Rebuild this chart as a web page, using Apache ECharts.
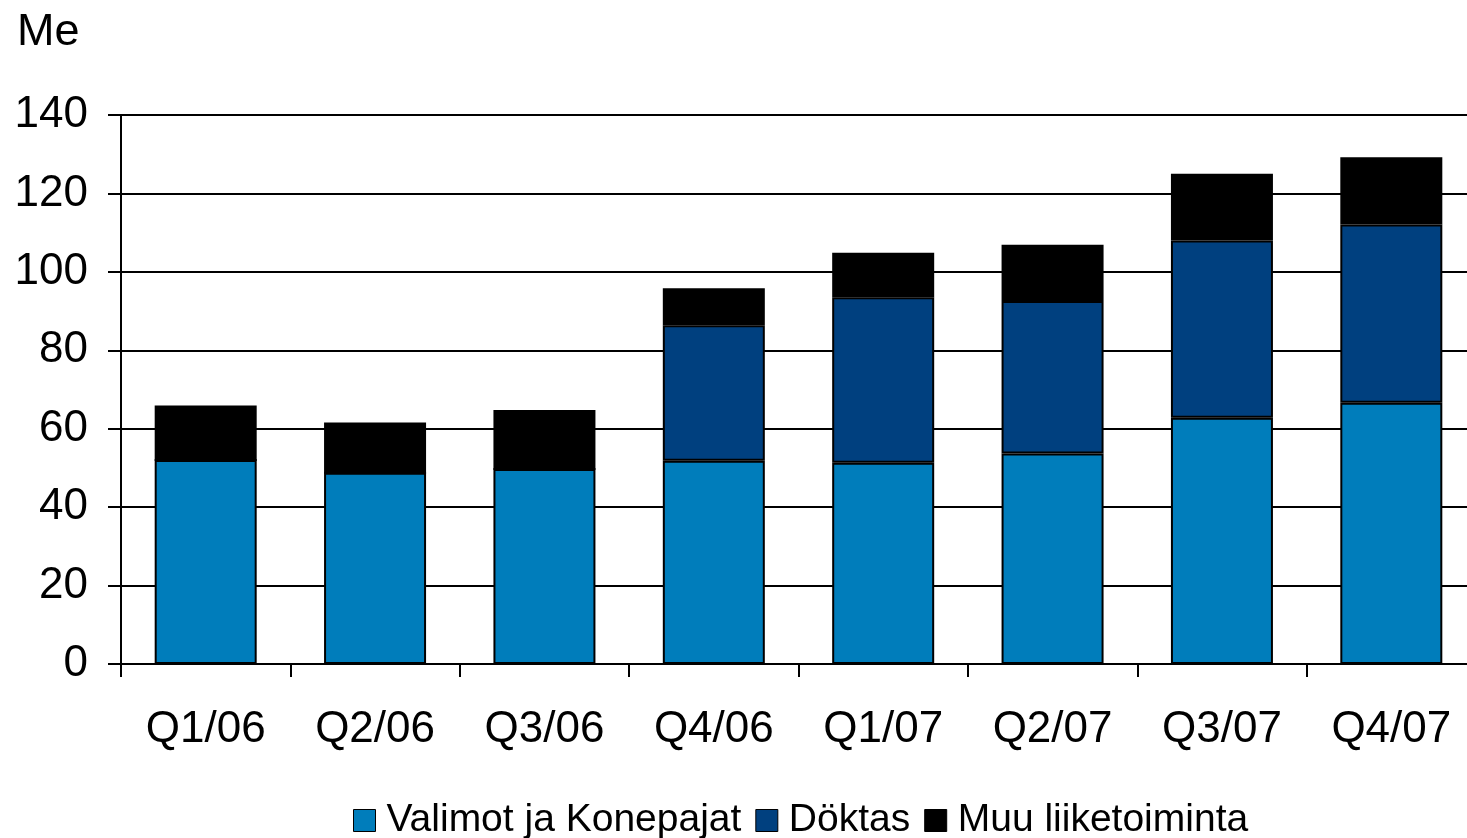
<!DOCTYPE html>
<html>
<head>
<meta charset="utf-8">
<script src="https://cdn.jsdelivr.net/npm/echarts@6/dist/echarts.min.js"></script>
<style>
  html, body { margin: 0; padding: 0; background: #fff; }
  #chart { width: 1467px; height: 838px; }
</style>
</head>
<body>
<div id="chart"></div>
<script>
// quarters on the x axis
const quarters = ["Q1/06", "Q2/06", "Q3/06", "Q4/06", "Q1/07", "Q2/07", "Q3/07", "Q4/07"];

// stacked segments, Me
const valimot = [52.0, 48.8, 49.7, 51.8, 51.3, 53.7, 62.8, 66.6];
const doktas = [0, 0, 0, 34.6, 42.2, 38.9, 45.2, 45.5];
const muu = [13.9, 12.8, 15.1, 9.4, 11.4, 14.3, 17.0, 17.1];

const font = "Liberation Sans, Arial, sans-serif";

const chart = echarts.init(document.getElementById("chart"));

function bar(name, data, color) {
  return {
    name: name,
    type: "bar",
    stack: "total",
    data: data,
    barWidth: 102,
    itemStyle: { color: color, borderColor: "#000", borderWidth: 2 },
    emphasis: { disabled: true },
  };
}

chart.setOption({
  animation: false,
  backgroundColor: "#fff",
  title: {
    text: "Me",
    left: 12,
    top: 5,
    textStyle: { fontFamily: font, fontSize: 45, fontWeight: "normal", color: "#000" },
  },
  legend: {
    left: 348,
    top: 796,
    itemWidth: 22,
    itemHeight: 22,
    itemGap: 14,
    textStyle: { fontFamily: font, fontSize: 39, color: "#000", padding: [0, 0, 0, 6] },
    data: [
      { name: "Valimot ja Konepajat", icon: "rect", itemStyle: { borderColor: "#000", borderWidth: 1 } },
      { name: "Döktas", icon: "rect", itemStyle: { borderColor: "#000", borderWidth: 1 } },
      { name: "Muu liiketoiminta", icon: "rect", itemStyle: { borderColor: "#000", borderWidth: 1 } },
    ],
  },
  grid: { left: 121, right: -9, top: 115, bottom: 174, outerBoundsMode: "none", containLabel: false },
  xAxis: {
    type: "category",
    data: quarters,
    axisLine: { lineStyle: { color: "#000", width: 2 } },
    axisTick: { show: true, length: 13, lineStyle: { color: "#000", width: 2 } },
    axisLabel: { fontFamily: font, fontSize: 44, color: "#000", margin: 44 },
  },
  yAxis: {
    type: "value",
    min: 0,
    max: 140,
    interval: 20,
    axisLine: { show: true, lineStyle: { color: "#000", width: 2 } },
    axisTick: { show: true, length: 13, lineStyle: { color: "#000", width: 2 } },
    splitLine: { lineStyle: { color: "#000", width: 2 } },
    axisLabel: { fontFamily: font, fontSize: 44, color: "#000", margin: 33 },
  },
  series: [
    bar("Valimot ja Konepajat", valimot, "#007DBB"),
    bar("Döktas", doktas, "#00407F"),
    bar("Muu liiketoiminta", muu, "#000000"),
  ],
});
</script>
</body>
</html>
